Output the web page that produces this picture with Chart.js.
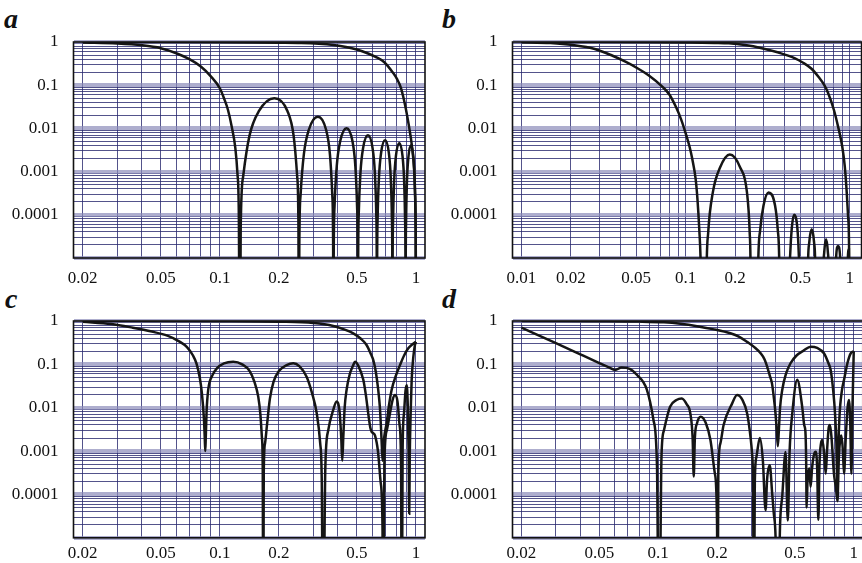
<!DOCTYPE html>
<html>
<head>
<meta charset="utf-8">
<script src="https://cdn.jsdelivr.net/npm/chart.js@4.4.1/dist/chart.umd.min.js"></script>
<style>
  html, body { margin: 0; padding: 0; background: #fff; }
  body { width: 862px; height: 563px; position: relative; overflow: hidden; }
  canvas { position: absolute; }
  .letter { position: absolute; font: italic bold 28px 'Liberation Serif', serif; color: #111; line-height: 1; }
</style>
</head>
<body>
<div class="letter" style="left:4px;top:5px">a</div>
<div class="letter" style="left:442px;top:5px">b</div>
<div class="letter" style="left:5px;top:285px">c</div>
<div class="letter" style="left:442px;top:285px">d</div>
<canvas id="chartC" width="431" height="283" style="left:0;top:280px"></canvas>
<canvas id="chartD" width="433" height="283" style="left:431px;top:280px"></canvas>
<canvas id="chartA" width="431" height="285" style="left:0;top:0"></canvas>
<canvas id="chartB" width="433" height="285" style="left:431px;top:0"></canvas>
<script>
// tick labels
const xLabelsACD = [0.02, 0.05, 0.1, 0.2, 0.5, 1];
const xLabelsB = [0.01, 0.02, 0.05, 0.1, 0.2, 0.5, 1];
const yLabels = [1, 0.1, 0.01, 0.001, 0.0001];

// panel a: [x, y]
const aMain = [[0.02,1],[0.05,0.995],[0.1,0.985],[0.15,0.975],[0.2,0.965],[0.26,0.95],[0.32,0.91],[0.38,0.85],[0.44,0.77],[0.5,0.67],
  [0.566,0.55],[0.63,0.44],[0.69,0.34],[0.76,0.2],[0.8,0.14],[0.838,0.087],[0.88,0.035],[0.924,0.0104],[0.95,0.0045],[0.98,0.001],
  [0.99,0.0003],[0.997,0.00004],[1.0,1e-8]];
const aSide = [[0.02,0.97],[0.03,0.92],[0.04,0.84],[0.05,0.72],[0.06,0.55],[0.07,0.4],[0.08,0.27],[0.09,0.16],[0.1,0.085],[0.105,0.05],
  [0.11,0.027],[0.115,0.011],[0.12,0.0035],[0.123,0.0009],[0.125,0.0001],[0.1265,1e-8],
  [0.1278,5e-5],[0.1316,7.9e-4],[0.1417,0.0068],[0.1581,0.025],[0.1898,0.05],[0.2214,0.025],[0.2378,0.0068],[0.2479,7.9e-4],[0.2517,5e-5],[0.253,1e-8],
  [0.2543,1.9e-5],[0.2581,2.9e-4],[0.2682,0.0025],[0.2846,0.0094],[0.3163,0.0187],[0.3479,0.0094],[0.3643,0.0025],[0.3744,2.9e-4],[0.3782,1.9e-5],[0.3795,1e-8],
  [0.3808,1e-5],[0.3846,1.6e-4],[0.3947,0.00136],[0.4111,0.0051],[0.4428,0.0101],[0.4744,0.0051],[0.4908,0.00136],[0.5009,1.6e-4],[0.5047,1e-5],[0.506,1e-8],
  [0.5073,7e-6],[0.5111,1.1e-4],[0.5212,9.3e-4],[0.5376,0.0035],[0.5693,0.0069],[0.6009,0.0035],[0.6173,9.3e-4],[0.6274,1.1e-4],[0.6312,7e-6],[0.6325,1e-8],
  [0.6338,5e-6],[0.6376,8.3e-5],[0.6477,7.2e-4],[0.6641,0.0027],[0.6958,0.0053],[0.7274,0.0027],[0.7438,7.2e-4],[0.7539,8.3e-5],[0.7577,5e-6],[0.759,1e-8],
  [0.7603,5e-6],[0.7641,7.2e-5],[0.7742,6.2e-4],[0.7906,0.0023],[0.8223,0.0046],[0.8539,0.0023],[0.8703,6.2e-4],[0.8804,7.2e-5],[0.8842,5e-6],[0.8855,1e-8],
  [0.8866,4e-6],[0.8901,6.4e-5],[0.8992,5.5e-4],[0.9141,0.00205],[0.9428,0.0041],[0.9714,0.00205],[0.9863,5.5e-4],[0.9954,6.4e-5],[0.9989,4e-6],[1.0,1e-8]];

// panel b
const bMain = [[0.01,1],[0.03,0.995],[0.06,0.985],[0.1,0.97],[0.15,0.95],[0.183,0.93],[0.23,0.85],[0.291,0.72],[0.368,0.57],[0.464,0.42],
  [0.52,0.33],[0.585,0.24],[0.65,0.15],[0.7,0.1],[0.739,0.065],[0.8,0.027],[0.849,0.011],[0.9,0.0038],[0.933,0.0013],[0.96,0.0003],
  [0.977,0.00009],[0.99,0.00002],[1.0,1e-8]];
const bSide = [[0.01,0.99],[0.015,0.945],[0.0206,0.85],[0.028,0.69],[0.0359,0.48],[0.043,0.35],[0.0509,0.247],[0.06,0.166],[0.0721,0.093],[0.08,0.0595],
  [0.0871,0.032],[0.094,0.016],[0.1,0.0078],[0.106,0.0036],[0.11,0.0019],[0.115,0.0007],[0.118,0.00024],[0.121,0.00005],[0.1235,0.000008],[0.127,1e-8],
  [0.1326,1e-8],[0.1338,2.5e-6],[0.1373,3.9e-5],[0.1467,3.4e-4],[0.1621,0.00125],[0.186,0.0025],[0.215,0.00125],[0.2363,3.4e-4],[0.2457,3.9e-5],[0.2492,2.5e-6],[0.2504,1e-8],
  [0.2721,1e-8],[0.2763,5.2e-6],[0.2847,4.5e-5],[0.2983,1.65e-4],[0.32,3.3e-4],[0.3507,1.65e-4],[0.3643,4.5e-5],[0.3727,5.2e-6],[0.3769,1e-8],
  [0.4257,1e-8],[0.43,3.5e-6],[0.4343,1.35e-5],[0.4436,5e-5],[0.458,1e-4],[0.4794,5e-5],[0.4887,1.35e-5],[0.493,3.5e-6],[0.4973,1e-8],
  [0.5468,1e-8],[0.5563,6.2e-6],[0.5667,2.3e-5],[0.5865,4.6e-5],[0.6063,2.3e-5],[0.6167,6.2e-6],[0.6262,1e-8],
  [0.6807,1e-8],[0.6917,5.6e-6],[0.6991,1.35e-5],[0.7175,2.7e-5],[0.7359,1.35e-5],[0.7433,5.6e-6],[0.7543,1e-8],
  [0.8,1e-8],[0.825,9.5e-6],[0.849,1.9e-5],[0.875,9.5e-6],[0.9,1e-8],
  [0.95,1e-8],[0.972,8e-6],[0.988,1.6e-5],[1.0,1e-8]];

// panel c
const cMain = [[0.02,1],[0.1,0.99],[0.2,0.965],[0.3,0.9],[0.379,0.77],[0.43,0.64],[0.479,0.52],[0.52,0.4],[0.56,0.28],[0.59,0.17],
  [0.606,0.126],[0.625,0.065],[0.642,0.026],[0.655,0.01],[0.663,0.0036],[0.67,0.0013],[0.676,0.0006],[0.682,0.0011],[0.69,0.0022],[0.709,0.0044],
  [0.73,0.012],[0.752,0.026],[0.79,0.055],[0.829,0.096],[0.87,0.16],[0.914,0.234],[0.96,0.29],[1.0,0.33]];
const cSide = [[0.02,0.96],[0.028,0.85],[0.036,0.7],[0.045,0.57],[0.054,0.46],[0.062,0.34],[0.068,0.25],[0.073,0.16],[0.076,0.106],[0.079,0.05],
  [0.081,0.022],[0.083,0.0055],[0.0838,0.002],[0.0843,0.001],[0.0848,0.002],[0.0856,0.008],[0.0873,0.026],[0.0915,0.055],[0.0964,0.08],[0.105,0.105],
  [0.117,0.115],[0.13,0.1],[0.142,0.07],[0.15,0.04],[0.157,0.018],[0.161,0.007],[0.164,0.002],[0.1655,0.0004],[0.1665,1e-8],
  [0.1675,0.0003],[0.17,0.0015],[0.174,0.004],[0.18,0.016],[0.188,0.04],[0.2,0.07],[0.219,0.096],[0.237,0.106],[0.255,0.09],[0.277,0.052],
  [0.295,0.022],[0.312,0.0074],[0.325,0.0015],[0.331,0.0002],[0.336,1e-8],
  [0.345,0.0004],[0.357,0.003],[0.379,0.009],[0.394,0.014],[0.408,0.008],[0.416,0.002],[0.421,0.0006],[0.426,0.002],[0.433,0.01],[0.443,0.026],
  [0.46,0.06],[0.479,0.096],[0.489,0.115],[0.51,0.09],[0.539,0.044],[0.555,0.02],[0.571,0.0074],[0.585,0.0035],[0.594,0.0028],[0.605,0.0026],
  [0.618,0.0023],[0.64,0.001],[0.66,0.0002],[0.675,0.00002],[0.681,1e-8],
  [0.69,0.0005],[0.71,0.003],[0.737,0.0074],[0.76,0.015],[0.782,0.0196],[0.805,0.014],[0.825,0.004],[0.84,0.0004],[0.846,1e-8],
  [0.855,0.001],[0.869,0.0074],[0.885,0.025],[0.897,0.033],[0.908,0.012],[0.918,0.0008],[0.924,0.000036],[0.93,0.0008],[0.94,0.008],[0.951,0.044],
  [0.97,0.15],[0.988,0.28],[1.0,0.33]];

// panel d
const dMain = [[0.02,1],[0.05,0.99],[0.08,0.97],[0.107,0.93],[0.13,0.86],[0.158,0.76],[0.19,0.65],[0.234,0.52],[0.26,0.43],[0.285,0.33],
  [0.31,0.25],[0.334,0.18],[0.35,0.13],[0.361,0.088],[0.372,0.055],[0.382,0.036],[0.391,0.016],[0.398,0.0074],[0.404,0.003],[0.409,0.0013],
  [0.414,0.003],[0.42,0.01],[0.431,0.026],[0.45,0.06],[0.475,0.106],[0.51,0.16],[0.556,0.21],[0.602,0.255],[0.65,0.24],[0.704,0.18],
  [0.74,0.11],[0.762,0.074],[0.785,0.025],[0.802,0.0074],[0.815,0.0015],[0.822,0.0002],[0.825,0.00007],[0.83,0.0005],[0.845,0.006],[0.87,0.025],
  [0.892,0.044],[0.93,0.11],[0.965,0.18],[1.0,0.2]];
const dSide = [[0.02,0.7],[0.03,0.31],[0.04,0.17],[0.05,0.107],[0.056,0.085],[0.0602,0.074],[0.065,0.085],[0.072,0.078],[0.078,0.057],[0.0875,0.026],
  [0.0946,0.0052],[0.0986,0.00044],[0.101,1e-8],
  [0.104,0.0008],[0.107,0.003],[0.115,0.0105],[0.124,0.015],[0.132,0.0164],[0.14,0.012],[0.146,0.0074],[0.15,0.002],[0.152,0.00026],[0.154,0.002],
  [0.158,0.0044],[0.165,0.0062],[0.175,0.0045],[0.185,0.0018],[0.195,0.0003],[0.2,0.00002],[0.201,1e-8],
  [0.203,0.0003],[0.208,0.0015],[0.216,0.004],[0.239,0.0126],[0.253,0.0196],[0.27,0.015],[0.285,0.0074],[0.297,0.002],[0.302,0.00088],[0.306,0.0001],[0.308,1e-8],
  [0.312,0.0002],[0.318,0.00074],[0.331,0.002],[0.343,0.0006],[0.354,0.000043],[0.36,0.0002],[0.363,0.00031],[0.372,0.00047],[0.383,0.0001],[0.39,0.000037],
  [0.4,0.000005],[0.406,1e-8],
  [0.42,0.00002],[0.431,0.000092],[0.448,0.00095],[0.46,0.000025],[0.47,0.001],[0.485,0.0074],[0.514,0.044],[0.545,0.0105],[0.558,0.004],[0.566,0.0028],
  [0.571,0.0006],[0.574,0.00005],[0.58,0.0002],[0.592,0.0004],[0.602,0.00015],[0.612,0.0004],[0.625,0.0008],[0.639,0.00096],[0.65,0.0004],[0.659,0.000026],
  [0.668,0.0005],[0.68,0.0015],[0.691,0.0018],[0.705,0.0009],[0.719,0.0003],[0.73,0.001],[0.745,0.0035],[0.756,0.004],[0.77,0.002],[0.792,0.0003],
  [0.81,0.00015],[0.825,0.000074],[0.84,0.0008],[0.855,0.002],[0.865,0.0023],[0.88,0.001],[0.892,0.0003],[0.91,0.002],[0.93,0.01],[0.946,0.015],
  [0.96,0.004],[0.973,0.0003],[0.985,0.01],[1.0,0.2]];

function gridValues(lowExp, highVal, startVal) {
  const vals = [];
  for (let e = lowExp; e <= 0; e++) {
    for (let m = 1; m <= 9; m++) {
      const v = e < 0 ? m / Math.pow(10, -e) : m * Math.pow(10, e);
      if (v >= startVal - 1e-12 && v <= highVal + 1e-12) vals.push(v);
    }
  }
  return vals;
}

function sameVal(a, b) {
  return Math.abs(Math.log10(a / b)) < 1e-6;
}

function isDecade(v) {
  const l = Math.log10(v);
  return Math.abs(l - Math.round(l)) < 1e-6;
}

const framePlugin = {
  id: 'frame',
  afterDatasetsDraw(chart) {
    const a = chart.chartArea;
    const c = chart.ctx;
    c.save();
    c.strokeStyle = '#111';
    c.lineWidth = 1.6;
    c.strokeRect(a.left, a.top, a.right - a.left, a.bottom - a.top);
    c.restore();
  }
};

function createPanel(id, p) {
  const canvas = document.getElementById(id);
  const xGrid = gridValues(-3, 1, p.xStart);
  const yGrid = gridValues(-5, 1, 0.00001);
  const tickFont = { family: "'Liberation Serif', 'Times New Roman', serif", size: 17 };

  new Chart(canvas.getContext('2d'), {
    type: 'line',
    data: {
      datasets: p.series.map(s => ({
        data: s.map(pt => ({ x: pt[0], y: pt[1] })),
        borderColor: '#151515',
        borderWidth: 2.5,
        pointRadius: 0,
        fill: false,
        cubicInterpolationMode: 'monotone',
        clip: 0
      }))
    },
    options: {
      responsive: false,
      animation: false,
      events: [],
      layout: { autoPadding: false, padding: { left: 0, top: p.top, right: p.right, bottom: 0 } },
      plugins: { legend: { display: false }, tooltip: { enabled: false }, title: { display: false } },
      scales: {
        x: {
          type: 'logarithmic',
          min: p.xMin,
          max: p.xMax,
          afterBuildTicks: s => { s.ticks = xGrid.map(v => ({ value: v })); },
          afterFit: s => { s.height = p.axisH; },
          ticks: {
            autoSkip: false, maxRotation: 0, minRotation: 0, padding: p.xPad,
            color: '#111', font: tickFont,
            callback: v => (p.xLabels.some(l => sameVal(l, v)) ? String(p.xLabels.find(l => sameVal(l, v))) : '')
          },
          grid: { color: 'rgba(40,40,110,0.8)', lineWidth: 1, drawTicks: false },
          border: { display: false }
        },
        y: {
          type: 'logarithmic',
          min: 0.00001,
          max: 1,
          afterBuildTicks: s => { s.ticks = yGrid.map(v => ({ value: v })); },
          afterFit: s => { s.width = p.left; },
          ticks: {
            autoSkip: false, padding: 15, color: '#111', font: tickFont,
            callback: v => (yLabels.some(l => sameVal(l, v)) ? String(yLabels.find(l => sameVal(l, v))) : '')
          },
          grid: {
            color: c => (c.tick && isDecade(c.tick.value) ? 'rgba(140,140,185,0.7)' : 'rgba(40,40,110,0.8)'),
            lineWidth: c => (c.tick && isDecade(c.tick.value) ? 4 : 1),
            drawTicks: false
          },
          border: { display: false }
        }
      }
    },
    plugins: [framePlugin]
  });
}

createPanel('chartA', { series: [aMain, aSide], xMin: 0.01795, xMax: 1.112, xStart: 0.02, xLabels: xLabelsACD,
  left: 73.5, right: 6, top: 42, axisH: 27, xPad: 10 });
createPanel('chartB', { series: [bMain, bSide], xMin: 0.00882, xMax: 1.18, xStart: 0.01, xLabels: xLabelsB,
  left: 81.5, right: 0, top: 42, axisH: 27, xPad: 10 });
createPanel('chartC', { series: [cMain, cSide], xMin: 0.01795, xMax: 1.112, xStart: 0.02, xLabels: xLabelsACD,
  left: 73.5, right: 6, top: 41, axisH: 25, xPad: 6 });
createPanel('chartD', { series: [dMain, dSide], xMin: 0.01799, xMax: 1.112, xStart: 0.02, xLabels: xLabelsACD,
  left: 81.5, right: 0, top: 41, axisH: 25, xPad: 6 });
</script>
</body>
</html>
